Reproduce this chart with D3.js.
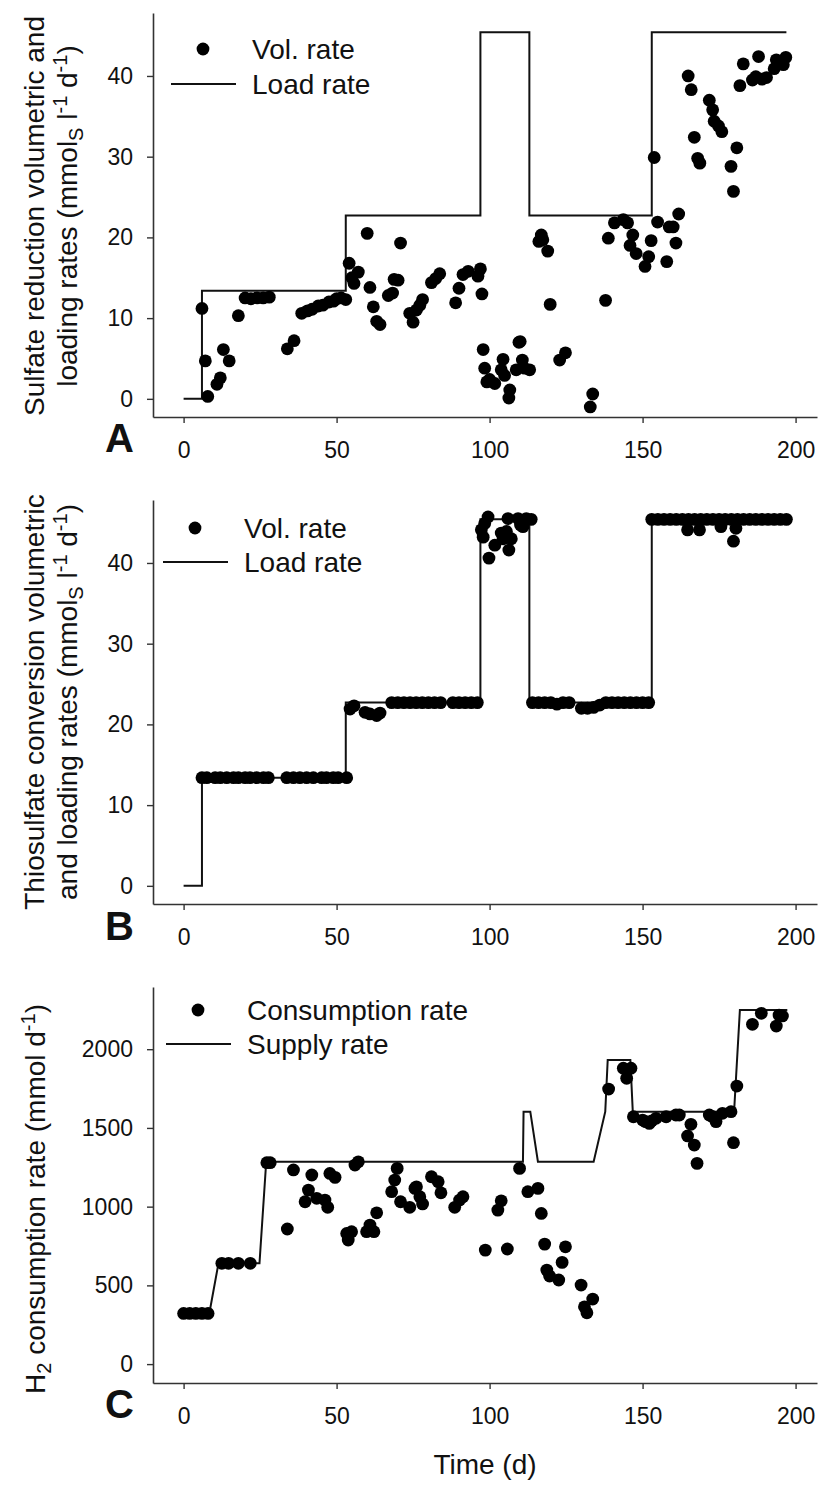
<!DOCTYPE html>
<html>
<head>
<meta charset="utf-8">
<script src="https://cdn.jsdelivr.net/npm/d3@7"></script>
<style>
  body { margin: 0; background: #fff; }
  svg { display: block; }
  text { font-family: "Liberation Sans", Arial, sans-serif; fill: #111; }
</style>
</head>
<body>
<svg id="fig" width="820" height="1485"></svg>
<script>
// ---- tick labels ----
const dayTicks  = [0, 50, 100, 150, 200];
const rateTicks = [0, 10, 20, 30, 40];
const h2Ticks   = [0, 500, 1000, 1500, 2000];

// ---- sulfur loading rate (step changes, mmolS l-1 d-1) ----
const loadDays  = [0, 6, 53, 97, 113, 153, 197];
const loadRates = [0, 13.4, 22.7, 45.4, 22.7, 45.4, 45.4];

// ---- A: sulfate reduction volumetric rate ----
const sulfateDays = [6.0, 7.1, 7.9, 10.9, 12.0, 13.0, 14.9, 17.9, 20.1, 22, 24, 26, 28, 33.9, 36.1,
  38.6, 40.5, 42, 44, 45.5, 47.5, 49, 50, 51.5, 53, 54.1, 55, 55.7, 57.1, 60.0, 60.9, 62.0, 63.1, 64.2,
  66.9, 68.3, 68.8, 70.1, 70.9, 73.9, 75.0, 76.1, 77.2, 78.1, 81.0, 82.4, 83.7, 88.9, 90.0, 91.3, 93.0,
  96.2, 97.0, 97.5, 97.9, 98.4, 99.1, 100.0, 101.7, 103.8, 104.4, 104.9, 106.3, 106.6, 108.7, 109.6,
  110.0, 110.7, 111.4, 113.1, 116.1, 116.9, 117.4, 119.0, 119.8, 122.9, 124.8, 132.9, 133.7, 137.9,
  138.8, 140.8, 143.7, 145.1, 145.9, 146.8, 147.9, 150.8, 152.0, 152.8, 153.8, 154.9, 157.9, 158.7,
  160.0, 160.9, 161.8, 164.9, 165.9, 166.9, 168.0, 168.7, 171.8, 172.9, 173.4, 174.8, 175.9, 178.9,
  179.7, 180.8, 181.8, 182.9, 185.9, 187.0, 187.9, 189.0, 190.5, 193.0, 193.7, 196.0, 196.8];
const sulfateRates = [11.2, 4.7, 0.3, 1.8, 2.6, 6.1, 4.7, 10.3, 12.5, 12.4, 12.5, 12.5, 12.6, 6.2, 7.2,
  10.6, 10.9, 11.1, 11.5, 11.6, 12.0, 12.1, 12.4, 12.5, 12.3, 16.8, 15.0, 14.3, 15.7, 20.5, 13.8, 11.4, 9.6, 9.2,
  12.8, 13.1, 14.8, 14.7, 19.3, 10.6, 9.5, 11.0, 11.6, 12.3, 14.4, 14.9, 15.5, 11.9, 13.7, 15.4, 15.8,
  15.2, 16.1, 13.0, 6.1, 3.8, 2.1, 2.4, 1.9, 3.6, 4.9, 2.9, 0.1, 1.1, 3.6, 7.0,
  7.1, 4.8, 3.8, 3.6, 19.5, 20.3, 19.7, 18.3, 11.7, 4.8, 5.7, -1.0, 0.6, 12.2,
  19.9, 21.8, 22.2, 21.8, 19.0, 20.3, 18.0, 16.4, 17.6, 19.6, 29.9, 21.9, 17.0, 21.3,
  21.3, 19.3, 22.9, 40.0, 38.3, 32.4, 29.8, 29.2, 37.0, 35.8, 34.4, 33.8, 33.1, 28.8,
  25.7, 31.1, 38.8, 41.5, 39.5, 39.9, 42.4, 39.6, 39.8, 40.9, 42.0, 41.4, 42.3];

// ---- B: thiosulfate conversion volumetric rate ----
const thioDays = [6, 7.6, 10.3, 12, 14.1, 16.3, 17.9, 20.1, 21.7, 23.9, 26.1, 27.7, 33.7, 35.9, 38, 40.2,
  42.4, 45.1, 46.7, 48.9, 50.5, 53.3, 54.4, 55.7, 59.3, 60.9, 63.1, 64.2, 68, 70, 72, 74, 76, 78, 80, 82,
  84, 88, 90, 92, 94, 96, 97.3, 97.9, 98.4, 99.5, 99.8, 101.7, 103.8, 104.4, 105.5, 106.0, 106.3, 107.1,
  109.3, 110.1, 110.9, 112.0, 113.6, 114, 116, 118, 120, 122, 124, 126, 130, 132, 134, 136, 138, 140,
  142, 144, 146, 148, 150, 152, 153, 155, 157, 159, 161, 163, 164.7, 165, 167, 168.6, 169, 171, 173,
  175, 175.6, 177, 179, 179.7, 180.5, 181, 183, 185, 187, 189, 191, 193, 195, 197];
const thioRates = [13.4, 13.4, 13.4, 13.4, 13.4, 13.4, 13.4, 13.4, 13.4, 13.4, 13.4, 13.4, 13.4, 13.4, 13.4, 13.4,
  13.4, 13.4, 13.4, 13.4, 13.4, 13.4, 21.9, 22.3, 21.5, 21.3, 21.1, 21.4, 22.7, 22.7, 22.7, 22.7, 22.7, 22.7, 22.7, 22.7,
  22.7, 22.7, 22.7, 22.7, 22.7, 22.7, 44.1, 43.2, 44.9, 45.7, 40.6, 42.2, 43.7, 43.0, 43.9, 45.5, 41.6, 43.0,
  45.5, 44.7, 44.5, 45.5, 45.4, 22.7, 22.7, 22.7, 22.7, 22.5, 22.7, 22.7, 22.0, 22.0, 22.1, 22.4, 22.7, 22.7,
  22.7, 22.7, 22.7, 22.7, 22.7, 22.7, 45.4, 45.4, 45.4, 45.4, 45.4, 45.4, 44.1, 45.4, 45.4, 44.1, 45.4, 45.4, 45.4,
  45.4, 44.5, 45.4, 45.4, 42.7, 44.3, 45.4, 45.4, 45.4, 45.4, 45.4, 45.4, 45.4, 45.4, 45.4];

// ---- C: H2 supply (mmol d-1) ----
const supplyDays  = [0, 8.4, 11.4, 24.8, 27.0, 110.9, 111.1, 113.3, 115.8, 134.0, 137.8, 138.6, 146.0, 146.8, 179.9, 181.8, 197.3];
const supplyRates = [322, 322, 640, 640, 1285, 1285, 1603, 1603, 1285, 1285, 1603, 1931, 1931, 1603, 1603, 2249, 2249];

// ---- C: H2 consumption (mmol d-1) ----
const h2Days = [0, 2, 4, 6, 8, 12.5, 14.7, 17.9, 21.8, 27.2, 28.3, 33.9, 35.9, 39.7, 40.8, 41.9, 43.5,
  46.2, 47.1, 47.8, 49.5, 53.3, 53.8, 54.9, 56.0, 57.1, 59.8, 60.9, 62.2, 63.1, 68.0, 69.0, 69.8, 70.9,
  73.9, 75.6, 76.1, 77.2, 78.1, 81.0, 83.2, 84.1, 88.6, 90.2, 91.3, 98.6, 102.7, 103.8, 105.8, 109.8,
  112.5, 115.8, 116.9, 118.0, 118.7, 119.6, 122.6, 123.7, 124.8, 129.9, 131.0, 131.8, 133.7, 138.9,
  143.7, 144.8, 146.2, 147.0, 150.0, 151.0, 152.2, 153.0, 154.4, 157.7, 160.9, 162.0, 164.7, 165.8,
  166.9, 167.8, 171.8, 172.9, 174.0, 176.1, 178.9, 179.7, 180.8, 185.9, 188.8, 193.7, 194.6, 195.7];
const h2Rates = [322, 322, 322, 322, 322, 640, 640, 640, 640, 1279, 1279, 858, 1233, 1031, 1105, 1201, 1053,
  1042, 996, 1211, 1186, 830, 788, 841, 1264, 1285, 841, 883, 841, 961, 1095, 1169, 1243, 1031,
  996, 1116, 1126, 1063, 1017, 1190, 1158, 1088, 996, 1042, 1063, 724, 978, 1037, 731, 1243,
  1095, 1116, 957, 762, 597, 559, 534, 646, 745, 502, 364, 326, 413, 1747,
  1879, 1815, 1879, 1571, 1550, 1540, 1529, 1545, 1561, 1571, 1582, 1582, 1449, 1523,
  1391, 1275, 1582, 1571, 1540, 1593, 1603, 1406, 1766, 2158, 2228, 2147, 2217, 2211];

// ---------------------------------------------------------------
const svg = d3.select("#fig");
const LEFT = 153, RIGHT = 817;
const x = d3.scaleLinear().domain([-10, 207]).range([LEFT, RIGHT]);
const AXIS = "#333", INK = "#111";
const DOT_R = 6.4;

const zip = (a, b) => a.map((d, i) => ({ x: d, y: b[i] }));

function drawPanel(p) {
  const y = d3.scaleLinear().domain(p.yDomain).range([p.bottom, p.top]);
  const g = svg.append("g");

  // axes
  const ax = g.append("g").attr("transform", `translate(0,${p.bottom})`)
    .call(d3.axisBottom(x).tickValues(dayTicks).tickFormat(d3.format("d"))
      .tickSize(6).tickSizeOuter(0).tickPadding(19));
  const ay = g.append("g").attr("transform", `translate(${LEFT},0)`)
    .call(d3.axisLeft(y).tickValues(p.yTicks).tickFormat(d3.format("d"))
      .tickSize(6).tickSizeOuter(0).tickPadding(14));
  [ax, ay].forEach(a => {
    a.select(".domain").attr("stroke", AXIS).attr("stroke-width", 1.6);
    a.selectAll(".tick line").attr("stroke", AXIS).attr("stroke-width", 1.4);
    a.selectAll(".tick text").attr("font-size", 23).attr("fill", INK)
      .style("font-family", '"Liberation Sans", Arial, sans-serif');
  });

  // line series
  g.append("path")
    .datum(zip(p.lineX, p.lineY))
    .attr("fill", "none").attr("stroke", INK).attr("stroke-width", 2)
    .attr("stroke-linejoin", "miter")
    .attr("d", d3.line().x(d => x(d.x)).y(d => y(d.y)).curve(p.curve));

  // points
  g.append("g").selectAll("circle")
    .data(zip(p.ptX, p.ptY))
    .join("circle")
    .attr("cx", d => x(d.x)).attr("cy", d => y(d.y))
    .attr("r", DOT_R).attr("fill", "#000");

  // legend
  const L = p.legend;
  g.append("circle").attr("cx", L.dotX).attr("cy", L.dotY).attr("r", DOT_R).attr("fill", "#000");
  g.append("text").attr("x", L.textX).attr("y", L.base1).attr("font-size", 28).text(L.label1);
  g.append("line").attr("x1", L.lineX1).attr("x2", L.lineX2).attr("y1", L.lineY).attr("y2", L.lineY)
    .attr("stroke", INK).attr("stroke-width", 2);
  g.append("text").attr("x", L.textX).attr("y", L.base2).attr("font-size", 28).text(L.label2);

  // panel letter
  g.append("text").attr("x", 105).attr("y", p.letterY)
    .attr("font-size", 40).attr("font-weight", "bold").text(p.letter);

  // y-axis title (rotated)
  const yc = p.titleCenter;
  p.title.forEach(line => {
    const t = g.append("text")
      .attr("transform", `translate(${line.x},${yc}) rotate(-90)`)
      .attr("text-anchor", "middle").attr("font-size", 28);
    line.parts.forEach(part => {
      const ts = t.append("tspan").text(part.t);
      if (part.sub) ts.attr("font-size", 20).attr("dy", 6);
      if (part.sup) ts.attr("font-size", 20).attr("dy", -10);
      if (part.back) ts.attr("dy", part.back);
    });
  });
}

const unitParts = [
  { t: "(mmol" }, { t: "S", sub: true }, { t: " l", back: -6 }, { t: "-1", sup: true },
  { t: " d", back: 10 }, { t: "-1", sup: true }, { t: ")", back: 10 }
];

drawPanel({
  letter: "A", letterY: 452,
  top: 13, bottom: 417, yDomain: [-2.25, 47.8], yTicks: rateTicks,
  lineX: loadDays, lineY: loadRates, curve: d3.curveStepAfter,
  ptX: sulfateDays, ptY: sulfateRates,
  legend: { dotX: 203, dotY: 49, textX: 252, base1: 59, lineX1: 171, lineX2: 236, lineY: 84, base2: 94,
            label1: "Vol. rate", label2: "Load rate" },
  titleCenter: 216,
  title: [
    { x: 44, parts: [{ t: "Sulfate reduction volumetric and" }] },
    { x: 77, parts: [{ t: "loading rates " }].concat(unitParts) }
  ]
});

drawPanel({
  letter: "B", letterY: 940,
  top: 500, bottom: 904, yDomain: [-2.25, 47.8], yTicks: rateTicks,
  lineX: loadDays, lineY: loadRates, curve: d3.curveStepAfter,
  ptX: thioDays, ptY: thioRates,
  legend: { dotX: 195, dotY: 528, textX: 244, base1: 538, lineX1: 163, lineX2: 228, lineY: 562, base2: 572,
            label1: "Vol. rate", label2: "Load rate" },
  titleCenter: 702,
  title: [
    { x: 44, parts: [{ t: "Thiosulfate conversion volumetric" }] },
    { x: 77, parts: [{ t: "and loading rates " }].concat(unitParts) }
  ]
});

drawPanel({
  letter: "C", letterY: 1418,
  top: 987, bottom: 1383, yDomain: [-120, 2395], yTicks: h2Ticks,
  lineX: supplyDays, lineY: supplyRates, curve: d3.curveLinear,
  ptX: h2Days, ptY: h2Rates,
  legend: { dotX: 198, dotY: 1010, textX: 247, base1: 1020, lineX1: 166, lineX2: 231, lineY: 1044, base2: 1054,
            label1: "Consumption rate", label2: "Supply rate" },
  titleCenter: 1199,
  title: [
    { x: 45, parts: [{ t: "H" }, { t: "2", sub: true }, { t: " consumption rate (mmol d", back: -6 },
                     { t: "-1", sup: true }, { t: ")", back: 10 }] }
  ]
});

// shared x-axis title
svg.append("text").attr("x", 485).attr("y", 1474).attr("text-anchor", "middle")
  .attr("font-size", 28).text("Time (d)");
</script>
</body>
</html>
